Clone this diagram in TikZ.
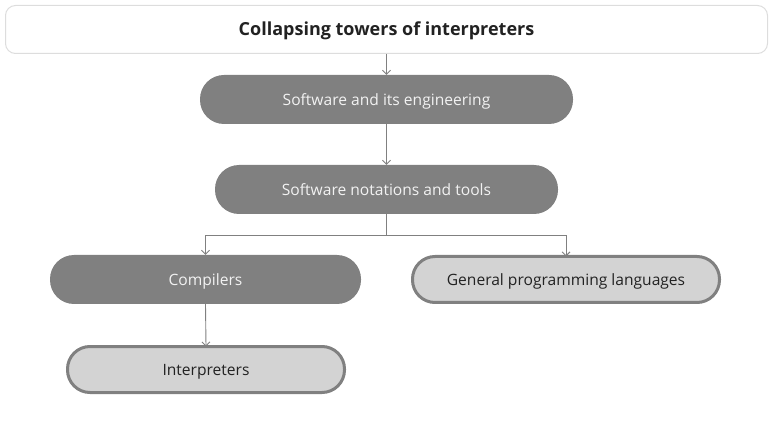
\documentclass[tikz,border=0pt]{standalone}
\usepackage{fontspec}
\setmainfont{Open Sans}
\usetikzlibrary{arrows.meta}
\definecolor{boxdark}{HTML}{808080}
\definecolor{boxlight}{HTML}{D3D3D3}
\definecolor{titleborder}{HTML}{DDDDDD}
\definecolor{txtdark}{HTML}{222222}
\definecolor{txtlight}{HTML}{F2F2F2}
\tikzset{
  titlebox/.style={draw=titleborder, line width=1pt, fill=white, rounded corners=10pt,
    minimum width=762pt, minimum height=48pt, inner sep=0pt, text height=12.9pt, text depth=0pt,
    font=\fontsize{18}{22}\selectfont\bfseries, text=txtdark},
  darkbox/.style={fill=boxdark, rounded corners=24pt, minimum height=49pt, inner sep=0pt,
    text height=11.1pt, text depth=0pt,
    font=\fontsize{15.6}{19}\selectfont, text=txtlight},
  lightbox/.style={draw=boxdark, line width=3pt, fill=boxlight, rounded corners=22.5pt,
    minimum height=46pt, inner sep=0pt, text height=11.1pt, text depth=0pt,
    font=\fontsize{15.6}{19}\selectfont, text=txtdark},
  conn/.style={draw=boxdark, line width=0.9pt},
  arr/.style={conn, -{Straight Barb[length=4pt,width=8pt]}},
}
\begin{document}
\begin{tikzpicture}[x=1pt,y=-1pt]
\useasboundingbox (0,0) rectangle (777,422);
\node[titlebox] (title) at (386.5,29.5) {Collapsing towers of interpreters};
\node[darkbox, minimum width=373pt] (n1) at (386.5,99.5) {Software and its engineering};
\node[darkbox, minimum width=343pt] (n2) at (386.5,189.5) {Software notations and tools};
\node[darkbox, minimum width=311pt] (n3) at (205.5,279.5) {Compilers};
\node[lightbox, minimum width=307pt] (n4) at (566,279.5) {General programming languages};
\node[lightbox, minimum width=277pt] (n5) at (206,369.5) {Interpreters};
\coordinate (j) at (386.5,235);
\draw[arr] (title.south) -- (n1.north);
\draw[arr] (n1.south) -- (n2.north);
\draw[conn] (n2.south) -- (j);
\draw[arr] (j) -| (n3.north);
\draw[arr] (j) -| ([yshift=-1.5pt]n4.north);
\draw[arr] (n3.south) -- ([yshift=-1.5pt]n5.north);
\end{tikzpicture}
\end{document}
